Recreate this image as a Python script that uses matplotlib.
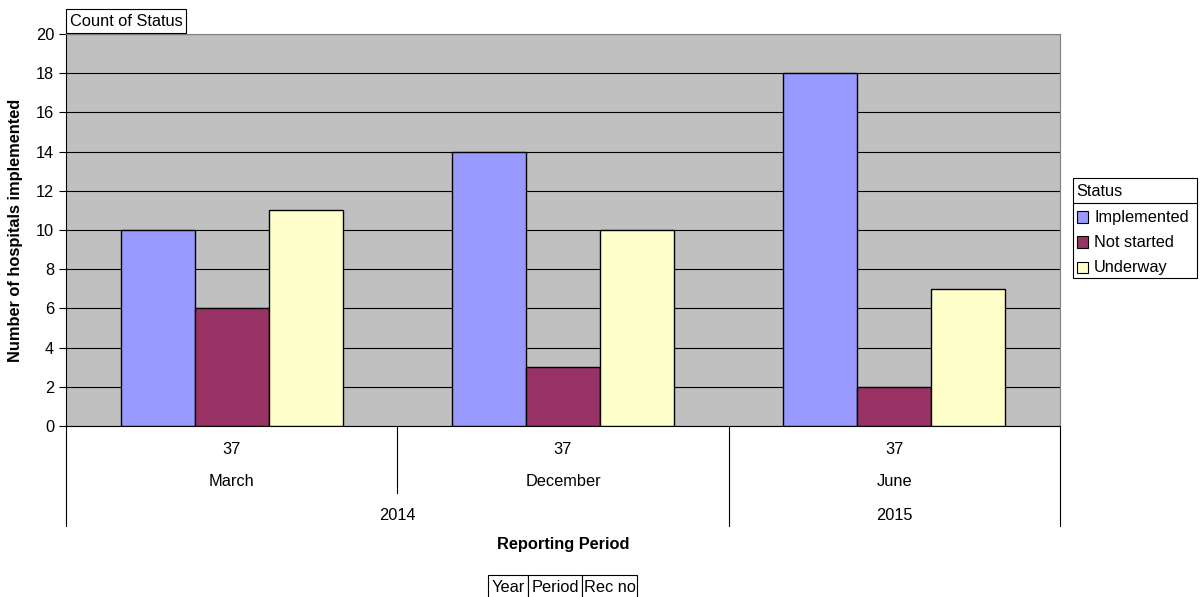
import matplotlib.pyplot as plt
from matplotlib.patches import Rectangle
import numpy as np

plt.rcParams['font.family'] = ['Liberation Sans', 'DejaVu Sans']

# counts of hospitals by status for each reporting period
years = ["2014", "2014", "2015"]
periods = ["March", "December", "June"]
rec_no = ["37", "37", "37"]
statuses = ["Implemented", "Not started", "Underway"]
implemented = [10, 14, 18]
not_started = [6, 3, 2]
underway = [11, 10, 7]
colors = ["#9999FF", "#993366", "#FFFFCC"]

FS = 11.8

fig = plt.figure(figsize=(12, 5.97), dpi=100)
W, H = 1200, 597
L, R, T, B = 66, 1060, 34, 426
ax = fig.add_axes([L / W, 1 - B / H, (R - L) / W, (B - T) / H])
ax.set_facecolor("#C0C0C0")

n = len(periods)
x = np.arange(n) + 0.5
w = 0.2235
for k, (vals, c) in enumerate(zip([implemented, not_started, underway], colors)):
    ax.bar(x + (k - 1) * w, vals, width=w, color=c, edgecolor="black",
           linewidth=1, zorder=3, label=statuses[k])

ax.set_xlim(0, n)
ax.set_ylim(0, 20)
ax.set_yticks(range(0, 21, 2))
ax.yaxis.grid(True, color="black", linewidth=0.8, zorder=1)
ax.set_axisbelow(True)
ax.tick_params(axis="y", direction="out", length=5, labelsize=FS, width=0.8)
ax.set_xticks([])
for s in ["top", "right"]:
    ax.spines[s].set_color("#808080")
for s in ["left", "bottom"]:
    ax.spines[s].set_color("black")

# multi-level category axis below the plot
trans = ax.get_xaxis_transform()
def yfrac(py):
    return (B - py) / (B - T)

for i in range(n):
    ax.text(x[i], yfrac(450), rec_no[i], ha="center", va="center",
            fontsize=FS, transform=trans)
    ax.text(x[i], yfrac(482), periods[i], ha="center", va="center",
            fontsize=FS, transform=trans)

# separators between periods
for i in range(n + 1):
    if i in (0, n) or years[i - 1] != years[i]:
        bottom = 526
    else:
        bottom = 493
    ax.plot([i, i], [0, yfrac(bottom)], color="black", linewidth=0.8,
            transform=trans, clip_on=False)

# year labels centred over their groups
start = 0
for i in range(1, n + 1):
    if i == n or years[i] != years[start]:
        ax.text((start + i) / 2, yfrac(515), years[start], ha="center",
                va="center", fontsize=FS, transform=trans)
        start = i

fig.text((L + R) / 2 / W, 1 - 545 / H, "Reporting Period", ha="center",
         va="center", fontsize=FS, fontweight="bold")
fig.text(16 / W, 1 - 230 / H, "Number of hospitals implemented", ha="center",
         va="center", rotation=90, fontsize=FS, fontweight="bold")

# field buttons
fig.patches.append(Rectangle((66 / W, 1 - 33 / H), 120 / W, 24 / H,
                             transform=fig.transFigure, facecolor="white",
                             edgecolor="black", linewidth=0.8))
fig.text(126 / W, 1 - 21 / H, "Count of Status", ha="center", va="center",
         fontsize=FS)

bx = 488
for lab, bw in zip(["Year", "Period", "Rec no"], [40, 54, 55]):
    fig.patches.append(Rectangle((bx / W, 1 - 599 / H), bw / W, 24 / H,
                                 transform=fig.transFigure, facecolor="white",
                                 edgecolor="black", linewidth=0.8))
    fig.text((bx + bw / 2) / W, 1 - 587 / H, lab, ha="center", va="center",
             fontsize=FS)
    bx += bw

# legend box
lx0, ly0, lx1, ly1 = 1073, 178, 1197, 278
fig.patches.append(Rectangle((lx0 / W, 1 - ly1 / H), (lx1 - lx0) / W,
                             (ly1 - ly0) / H, transform=fig.transFigure,
                             facecolor="white", edgecolor="black", linewidth=0.8))
fig.add_artist(plt.Line2D([lx0 / W, lx1 / W], [1 - 203 / H, 1 - 203 / H],
                          color="black", linewidth=0.8))
fig.text(1076 / W, 1 - 191 / H, "Status", ha="left", va="center", fontsize=FS)
for k, lab in enumerate(statuses):
    yy = 217 + k * 25
    fig.patches.append(Rectangle((1077 / W, 1 - (yy + 5.5) / H), 11 / W, 11 / H,
                                 transform=fig.transFigure, facecolor=colors[k],
                                 edgecolor="black", linewidth=0.8))
    fig.text(1094 / W, 1 - yy / H, lab, ha="left", va="center", fontsize=FS)

fig.savefig("out.png", dpi=100, facecolor="white")
